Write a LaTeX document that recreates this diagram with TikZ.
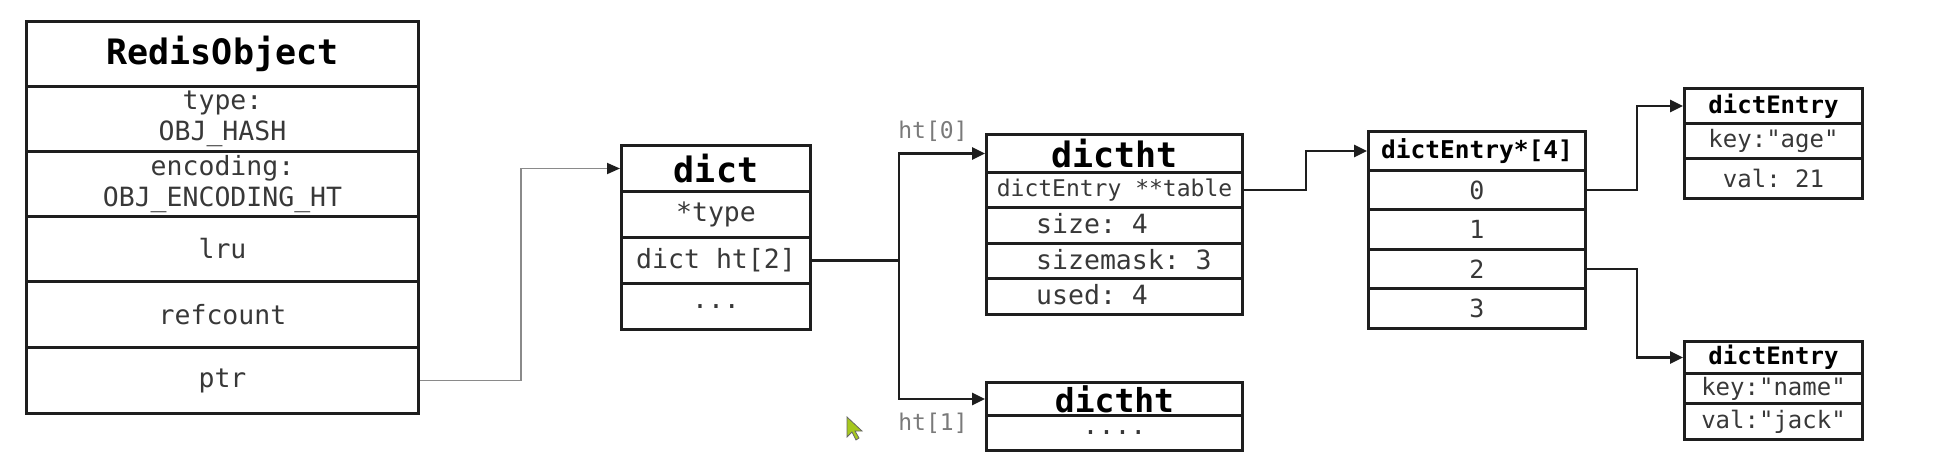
\documentclass[tikz,border=0pt]{standalone}
\usepackage{fontspec}
\setmonofont{DejaVu Sans Mono}
\usetikzlibrary{arrows.meta}
\definecolor{boxc}{HTML}{1E1E1E}
\definecolor{txt}{HTML}{383838}
\definecolor{lbl}{HTML}{7A7A7A}
\definecolor{ptrc}{HTML}{8A8A8A}
\definecolor{cursorc}{HTML}{A6C81E}
\tikzset{
  cell/.style={draw=boxc, line width=3pt, inner sep=0pt, anchor=north west,
    text=txt, align=center, font=\ttfamily\fontsize{26.5}{31}\selectfont},
  ttl/.style={cell, text=black, font=\ttfamily\bfseries\fontsize{35}{40}\selectfont},
  smallttl/.style={cell, text=black, font=\ttfamily\bfseries\fontsize{24.5}{28}\selectfont},
  smallcell/.style={cell, font=\ttfamily\fontsize{24}{28}\selectfont},
  lefttext/.style={anchor=west, inner sep=0pt, text=txt, font=\ttfamily\fontsize{26.5}{31}\selectfont},
  htlabel/.style={inner sep=0pt, text=lbl, font=\ttfamily\fontsize{23}{27}\selectfont},
  link/.style={draw=boxc, line width=2.6pt, -{Triangle[length=13pt,width=12pt]}},
  plainlink/.style={draw=boxc, line width=2.6pt},
  ptrlink/.style={draw=ptrc, line width=1.8pt, -{Triangle[length=13pt,width=11pt]}, arrows={[color=boxc]}},
}
\begin{document}
\begin{tikzpicture}[x=1pt, y=-1pt]
\useasboundingbox (0,0) rectangle (1936,464);

% RedisObject
\node[ttl, minimum width=392pt, minimum height=65pt] (ro0) at (25,20) {RedisObject};
\node[cell, minimum width=392pt, minimum height=65pt] (ro1) at (25,85) {type:\\OBJ\_HASH};
\node[cell, minimum width=392pt, minimum height=65pt] (ro2) at (25,150) {encoding:\\OBJ\_ENCODING\_HT};
\node[cell, minimum width=392pt, minimum height=65pt] (ro3) at (25,215) {lru};
\node[cell, minimum width=392pt, minimum height=66pt] (ro4) at (25,280) {refcount};
\node[cell, minimum width=392pt, minimum height=66pt] (ro5) at (25,346) {ptr};

% dict
\node[ttl, minimum width=189pt, minimum height=46pt] (d0) at (620,144) {dict};
\node[cell, minimum width=189pt, minimum height=46pt] (d1) at (620,190) {*type};
\node[cell, minimum width=189pt, minimum height=46pt] (d2) at (620,236) {dict ht[2]};
\node[cell, minimum width=189pt, minimum height=46pt] (d3) at (620,282) {...};

% dictht 0
\node[ttl, minimum width=256pt, minimum height=38pt] (t0) at (985,133) {dictht};
\node[cell, minimum width=256pt, minimum height=35pt, font=\ttfamily\fontsize{23}{27}\selectfont] (t1) at (985,171) {dictEntry **table};
\node[cell, minimum width=256pt, minimum height=36pt] (t2) at (985,206) {};
\node[cell, minimum width=256pt, minimum height=35pt] (t3) at (985,242) {};
\node[cell, minimum width=256pt, minimum height=36pt] (t4) at (985,277) {};
\node[lefttext] (t2txt) at (1036,224) {size: 4};
\node[lefttext] (t3txt) at (1036,259.5) {sizemask: 3};
\node[lefttext] (t4txt) at (1036,295) {used: 4};

% dictht 1
\node[ttl, minimum width=256pt, minimum height=33pt, font=\ttfamily\bfseries\fontsize{33}{38}\selectfont] (u0) at (985,381) {dictht};
\node[cell, minimum width=256pt, minimum height=35pt] (u1) at (985,414) {\raisebox{-3pt}{....}};

% dictEntry*[4]
\node[smallttl, minimum width=217pt, minimum height=39pt] (a0) at (1367,130) {dictEntry*[4]};
\node[cell, minimum width=217pt, minimum height=39pt, font=\ttfamily\fontsize{25}{29}\selectfont] (a1) at (1367,169) {0};
\node[cell, minimum width=217pt, minimum height=40pt, font=\ttfamily\fontsize{25}{29}\selectfont] (a2) at (1367,208) {1};
\node[cell, minimum width=217pt, minimum height=39pt, font=\ttfamily\fontsize{25}{29}\selectfont] (a3) at (1367,248) {2};
\node[cell, minimum width=217pt, minimum height=40pt, font=\ttfamily\fontsize{25}{29}\selectfont] (a4) at (1367,287) {3};

% dictEntry 1
\node[smallttl, minimum width=178pt, minimum height=35pt, font=\ttfamily\bfseries\fontsize{24}{28}\selectfont] (e10) at (1683,87) {dictEntry};
\node[smallcell, minimum width=178pt, minimum height=35pt] (e11) at (1683,122) {key:"age"};
\node[smallcell, minimum width=178pt, minimum height=40pt] (e12) at (1683,157) {val: 21};

% dictEntry 2
\node[smallttl, minimum width=178pt, minimum height=32pt, font=\ttfamily\bfseries\fontsize{24}{28}\selectfont] (e20) at (1683,340) {dictEntry};
\node[smallcell, minimum width=178pt, minimum height=30pt] (e21) at (1683,372) {key:"name"};
\node[smallcell, minimum width=178pt, minimum height=36pt] (e22) at (1683,402) {val:"jack"};

% labels
\node[htlabel] (l0) at (933,131) {ht[0]};
\node[htlabel] (l1) at (933,423) {ht[1]};

% connectors
\draw[ptrlink] (ro5.east) -- ++(101,0) |- (d0.west);
\coordinate (j1) at ([xshift=87pt]d2.east);
\draw[plainlink] (d2.east) -- (j1);
\draw[link] (j1) |- (t0.west);
\draw[link] (j1) |- (u0.west);
\draw[link] (t1.east) -- ++(62,0) |- (a0.west);
\draw[link] (a1.east) -- ++(50,0) |- (e10.west);
\draw[link] (a3.east) -- ++(50,0) |- (e20.west);

% mouse cursor
\filldraw[fill=cursorc, draw=black!60, line width=0.8pt]
  (847,417) -- (847,437) -- (852,432) -- (856,440) -- (859,438) -- (855,431) -- (862,431) -- cycle;
\end{tikzpicture}
\end{document}
